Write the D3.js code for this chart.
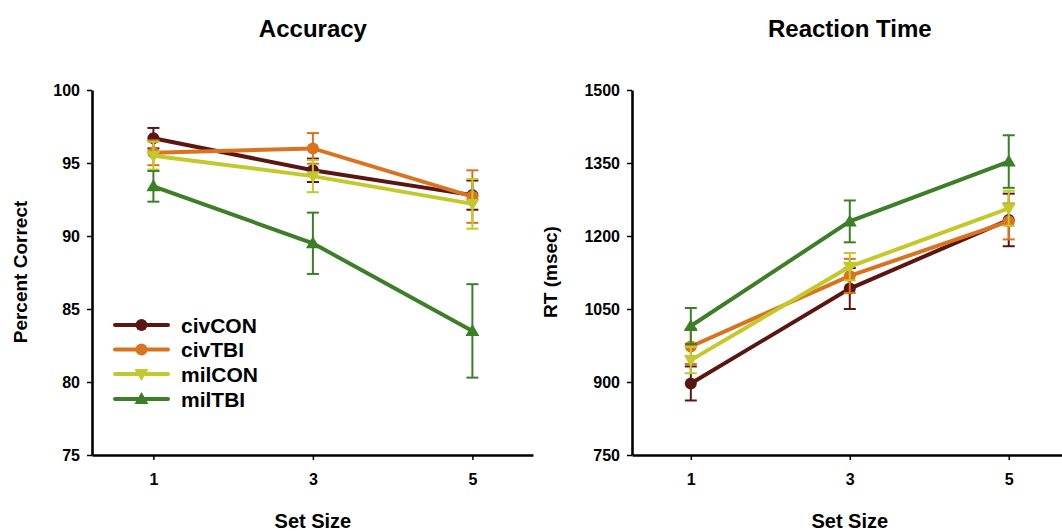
<!DOCTYPE html>
<html>
<head>
<meta charset="utf-8">
<script src="https://cdn.jsdelivr.net/npm/d3@7"></script>
<style>
  body { margin: 0; background: #fff; }
  svg { display: block; }
  .lbl { font-family: "Liberation Sans", Arial, sans-serif; font-weight: bold; }
</style>
</head>
<body>
<svg width="1062" height="531"></svg>
<script>
// set sizes on the x axis
const setSizes = [1, 3, 5]
const groups = ['civCON', 'civTBI', 'milCON', 'milTBI']
const colors = ['#5a1711', '#d9731f', '#c3c92c', '#3d7f28']
const markers = ['circle', 'circle', 'down', 'up']

// accuracy (percent correct), mean and error
const accCivCON = [96.7, 94.5, 92.8]
const accCivCONErr = [0.7, 0.8, 1.0]
const accCivTBI = [95.7, 96.0, 92.7]
const accCivTBIErr = [0.85, 1.05, 1.8]
const accMilCON = [95.5, 94.1, 92.2]
const accMilCONErr = [0.95, 1.1, 1.7]
const accMilTBI = [93.4, 89.5, 83.5]
const accMilTBIErr = [1.05, 2.1, 3.2]

// reaction time (msec), mean and error
const rtCivCON = [897, 1092, 1233]
const rtCivCONErr = [35, 42, 54]
const rtCivTBI = [973, 1118, 1230]
const rtCivTBIErr = [36, 35, 37]
const rtMilCON = [945, 1137, 1257]
const rtMilCONErr = [27, 28, 36]
const rtMilTBI = [1015, 1230, 1353]
const rtMilTBIErr = [37, 43, 54]

const accTicks = [75, 80, 85, 90, 95, 100]
const rtTicks = [750, 900, 1050, 1200, 1350, 1500]

const svg = d3.select('svg')

function drawPanel(opts) {
    const g = svg.append('g')
    const x = d3.scaleLinear().domain(opts.xDomain).range(opts.xRange)
    const y = d3.scaleLinear().domain(opts.yDomain).range([455, 90])

    // axes
    const yAxis = g.append('g')
        .attr('transform', `translate(${opts.xRange[0]},0)`)
        .call(d3.axisLeft(y).tickValues(opts.yTicks).tickFormat(d3.format('d'))
            .tickSize(5).tickSizeOuter(0).tickPadding(7))
    const xAxis = g.append('g')
        .attr('transform', 'translate(0,455)')
        .call(d3.axisBottom(x).tickValues(setSizes).tickFormat(d3.format('d'))
            .tickSize(5).tickSizeOuter(0).tickPadding(14))
    ;[yAxis, xAxis].forEach(a => {
        a.select('.domain').attr('stroke', '#000').attr('stroke-width', 2.6)
        a.selectAll('.tick line').attr('stroke', '#000').attr('stroke-width', 1.5)
        a.selectAll('.tick text')
            .attr('class', 'lbl')
            .attr('font-size', 16)
            .attr('fill', '#000')
    })

    // titles
    g.append('text')
        .attr('class', 'lbl')
        .attr('x', x(3)).attr('y', 37)
        .attr('text-anchor', 'middle')
        .attr('font-size', 24)
        .text(opts.title)
    g.append('text')
        .attr('class', 'lbl')
        .attr('x', x(3)).attr('y', 528)
        .attr('text-anchor', 'middle')
        .attr('font-size', 20)
        .text('Set Size')
    g.append('text')
        .attr('class', 'lbl')
        .attr('transform', `translate(${opts.yLabelX},272) rotate(-90)`)
        .attr('text-anchor', 'middle')
        .attr('font-size', 19)
        .text(opts.yLabel)

    const line = d3.line().x((d, i) => x(setSizes[i])).y(d => y(d))

    opts.series.forEach((s, k) => {
        const sg = g.append('g')
        // error bars
        s.values.forEach((v, i) => {
            const cx = x(setSizes[i])
            const e = s.err[i]
            sg.append('line')
                .attr('x1', cx).attr('x2', cx)
                .attr('y1', y(v - e)).attr('y2', y(v + e))
                .attr('stroke', colors[k]).attr('stroke-width', 2)
            ;[v - e, v + e].forEach(w => {
                sg.append('line')
                    .attr('x1', cx - 6).attr('x2', cx + 6)
                    .attr('y1', y(w)).attr('y2', y(w))
                    .attr('stroke', colors[k]).attr('stroke-width', 2)
            })
        })
        sg.append('path')
            .datum(s.values)
            .attr('d', line)
            .attr('fill', 'none')
            .attr('stroke', colors[k])
            .attr('stroke-width', 4)
        s.values.forEach((v, i) => {
            drawMarker(sg, markers[k], x(setSizes[i]), y(v), colors[k])
        })
    })
}

function drawMarker(g, type, cx, cy, color) {
    if (type === 'circle') {
        g.append('circle').attr('cx', cx).attr('cy', cy).attr('r', 6).attr('fill', color)
    } else if (type === 'down') {
        g.append('path')
            .attr('d', `M${cx - 7},${cy - 5} L${cx + 7},${cy - 5} L${cx},${cy + 7} Z`)
            .attr('fill', color)
    } else {
        g.append('path')
            .attr('d', `M${cx - 7},${cy + 5} L${cx + 7},${cy + 5} L${cx},${cy - 7} Z`)
            .attr('fill', color)
    }
}

drawPanel({
    title: 'Accuracy',
    yLabel: 'Percent Correct',
    yLabelX: 27,
    xDomain: [0.23, 5.76],
    xRange: [92, 533],
    yDomain: [75, 100],
    yTicks: accTicks,
    series: [
        { values: accCivCON, err: accCivCONErr },
        { values: accCivTBI, err: accCivTBIErr },
        { values: accMilCON, err: accMilCONErr },
        { values: accMilTBI, err: accMilTBIErr }
    ]
})

drawPanel({
    title: 'Reaction Time',
    yLabel: 'RT (msec)',
    yLabelX: 557,
    xDomain: [0.26, 5.67],
    xRange: [632, 1062],
    yDomain: [750, 1500],
    yTicks: rtTicks,
    series: [
        { values: rtCivCON, err: rtCivCONErr },
        { values: rtCivTBI, err: rtCivTBIErr },
        { values: rtMilCON, err: rtMilCONErr },
        { values: rtMilTBI, err: rtMilTBIErr }
    ]
})

// legend in the accuracy panel
const legend = svg.append('g')
const legendY = [325, 349.5, 374, 399]
groups.forEach((name, k) => {
    const row = legend.append('g')
    row.append('line')
        .attr('x1', 115).attr('x2', 168)
        .attr('y1', legendY[k]).attr('y2', legendY[k])
        .attr('stroke', colors[k]).attr('stroke-width', 4)
        .attr('stroke-linecap', 'round')
    drawMarker(row, markers[k], 141.5, legendY[k], colors[k])
    row.append('text')
        .attr('class', 'lbl')
        .attr('x', 181).attr('y', legendY[k])
        .attr('dy', '0.36em')
        .attr('font-size', 21)
        .text(name)
})
</script>
</body>
</html>
